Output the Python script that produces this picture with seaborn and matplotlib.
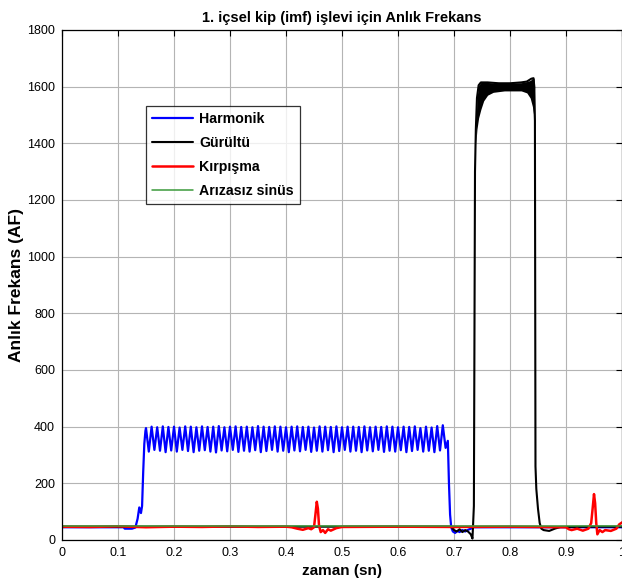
import numpy as np
import pandas as pd
import matplotlib
matplotlib.use("Agg")
import matplotlib.pyplot as plt
import seaborn as sns

# ---- data ----
# Harmonik: baseline, ramp, ~100 Hz oscillation (peak/trough pairs), drop
harm_pre_t = [0.0, 0.03, 0.06, 0.09, 0.110, 0.112, 0.125, 0.131, 0.135, 0.138, 0.141, 0.143, 0.145, 0.147, 0.149]
harm_pre_v = [45, 45, 45, 45, 45, 40, 40, 44, 75, 115, 95, 120, 240, 340, 385]
harm_peaks = [395, 400, 398, 401, 399, 400, 397, 401, 400, 398,
              401, 399, 400, 402, 398, 400, 401, 399, 400, 398,
              402, 400, 399, 401, 400, 398, 400, 401, 399, 400,
              397, 401, 400, 399, 401, 398, 400, 400, 399, 401,
              398, 400, 399, 401, 400, 398, 400, 399, 401, 395,
              400, 397, 402, 405]
harm_troughs = [312, 318, 315, 310, 316, 312, 318, 314, 310, 315,
                317, 312, 309, 316, 313, 318, 311, 315, 312, 317,
                310, 314, 318, 312, 315, 310, 316, 313, 318, 311,
                315, 312, 317, 310, 314, 318, 312, 315, 310, 316,
                313, 318, 311, 315, 312, 317, 310, 314, 318, 312,
                315, 310, 316, 325]
harm_post_t = [0.689, 0.691, 0.693, 0.695, 0.698, 0.702, 0.706, 0.710, 0.715, 0.720, 0.725, 0.730, 0.735, 0.75, 0.80, 0.90, 1.0]
harm_post_v = [350, 200, 90, 45, 30, 25, 32, 28, 35, 30, 36, 40, 45, 45, 45, 45, 45]

# Gürültü: baseline, steep rise, noisy plateau (envelope), fall
noise_t = [0.0, 0.2, 0.4, 0.6, 0.695, 0.700, 0.705, 0.710, 0.715, 0.720, 0.725, 0.730, 0.733, 0.7355,
           0.7365, 0.7375, 0.739, 0.741, 0.744, 0.748, 0.76, 0.78, 0.80, 0.82, 0.83, 0.838, 0.842, 0.8445,
           0.8455, 0.847, 0.850, 0.853, 0.856, 0.860, 0.870, 0.880, 0.890, 0.95, 1.0]
noise_v = [47, 47, 47, 47, 47, 35, 30, 38, 28, 35, 30, 20, 5, 120,
           700, 1300, 1450, 1560, 1605, 1615, 1615, 1612, 1612, 1615, 1618, 1628, 1630, 1480,
           260, 180, 110, 60, 40, 35, 32, 40, 46, 47, 47]
band_t = [0.739, 0.741, 0.744, 0.748, 0.753, 0.760, 0.770, 0.790, 0.820, 0.830, 0.836, 0.840, 0.843, 0.8445]
band_low = [1400, 1450, 1490, 1520, 1550, 1570, 1580, 1585, 1585, 1578, 1560, 1530, 1490, 1450]
band_high = [1450, 1560, 1605, 1615, 1616, 1615, 1613, 1612, 1614, 1618, 1622, 1628, 1630, 1600]

# Kırpışma: baseline with two spikes
clip_t = [0.0, 0.05, 0.10, 0.15, 0.20, 0.25, 0.30, 0.35, 0.40, 0.41, 0.42, 0.43, 0.44, 0.445, 0.450,
          0.452, 0.455, 0.457, 0.459, 0.462, 0.466, 0.470, 0.475, 0.480, 0.490, 0.50, 0.60, 0.70, 0.80,
          0.90, 0.905, 0.91, 0.92, 0.93, 0.94, 0.945, 0.948, 0.950, 0.952, 0.954, 0.956, 0.960, 0.965,
          0.970, 0.980, 0.990, 0.995, 1.0]
clip_v = [47, 46, 48, 45, 47, 46, 48, 46, 47, 45, 40, 36, 42, 38, 45,
          80, 135, 110, 50, 28, 35, 25, 38, 33, 42, 46, 47, 46, 47,
          45, 38, 35, 40, 33, 40, 60, 120, 162, 130, 60, 20, 35, 28,
          35, 32, 40, 55, 62]

# Arızasız sinüs: flat
sine_t = [0.0, 1.0]
sine_v = [50, 50]

x_ticks = [0, 0.1, 0.2, 0.3, 0.4, 0.5, 0.6, 0.7, 0.8, 0.9, 1.0]
x_tick_labels = ["0", "0.1", "0.2", "0.3", "0.4", "0.5", "0.6", "0.7", "0.8", "0.9", "1"]
y_ticks = [0, 200, 400, 600, 800, 1000, 1200, 1400, 1600, 1800]


def main():
    sns.set_theme(style="white")
    plt.rcParams["font.family"] = ["Liberation Sans", "DejaVu Sans"]
    plt.rcParams["figure.facecolor"] = "white"
    plt.rcParams["text.color"] = "black"
    plt.rcParams["axes.labelcolor"] = "black"

    osc_t = np.linspace(0.150, 0.685, 2 * len(harm_peaks))
    osc_v = np.empty(2 * len(harm_peaks))
    osc_v[0::2] = harm_peaks
    osc_v[1::2] = harm_troughs

    harm = pd.DataFrame({
        "t": np.concatenate([harm_pre_t, osc_t, harm_post_t]),
        "v": np.concatenate([harm_pre_v, osc_v, harm_post_v]),
    })
    noise = pd.DataFrame({"t": noise_t, "v": noise_v})
    clip = pd.DataFrame({"t": clip_t, "v": clip_v})
    sine = pd.DataFrame({"t": sine_t, "v": sine_v})

    fig = plt.figure(figsize=(6.22, 5.84), dpi=100)
    ax = fig.add_axes([62 / 622, 44 / 584, 560 / 622, 510 / 584])

    kw = dict(x="t", y="v", ax=ax, sort=False, estimator=None)
    sns.lineplot(data=harm, color="#0000ff", lw=1.6, label="Harmonik", **kw)
    sns.lineplot(data=noise, color="black", lw=1.5, label="Gürültü", **kw)
    ax.fill_between(band_t, band_low, band_high, color="black", lw=0)
    sns.lineplot(data=clip, color="#ff0000", lw=1.8, label="Kırpışma", **kw)
    sns.lineplot(data=sine, color="#3a9a3a", lw=1.1, label="Arızasız sinüs", **kw)

    ax.set_xlim(0, 1)
    ax.set_ylim(0, 1800)
    ax.set_xticks(x_ticks)
    ax.set_xticklabels(x_tick_labels)
    ax.set_yticks(y_ticks)
    ax.grid(True, color="#b4b4b4", lw=0.8)
    ax.tick_params(direction="in", length=4, width=0.8, top=True, right=True,
                   labelsize=9, colors="black", pad=5)
    for s in ax.spines.values():
        s.set_color("black")
        s.set_linewidth(0.9)

    ax.set_title("1. içsel kip (imf) işlevi için Anlık Frekans", fontsize=10.5, fontweight="bold", pad=6)
    ax.set_xlabel("zaman (sn)", fontsize=11, fontweight="bold", labelpad=4)
    ax.set_ylabel("Anlık Frekans (AF)", fontsize=12.5, fontweight="bold", labelpad=2)

    leg = ax.legend(loc="upper left", bbox_to_anchor=(0.15, 0.851), borderaxespad=0,
                    frameon=True, fancybox=False, handlelength=2.9, labelspacing=0.7,
                    handletextpad=0.4, borderpad=0.45,
                    prop={"weight": "bold", "size": 10.2})
    leg.get_frame().set_edgecolor("black")
    leg.get_frame().set_linewidth(0.9)

    fig.savefig("out.png", dpi=100)
    plt.close(fig)


if __name__ == "__main__":
    main()
